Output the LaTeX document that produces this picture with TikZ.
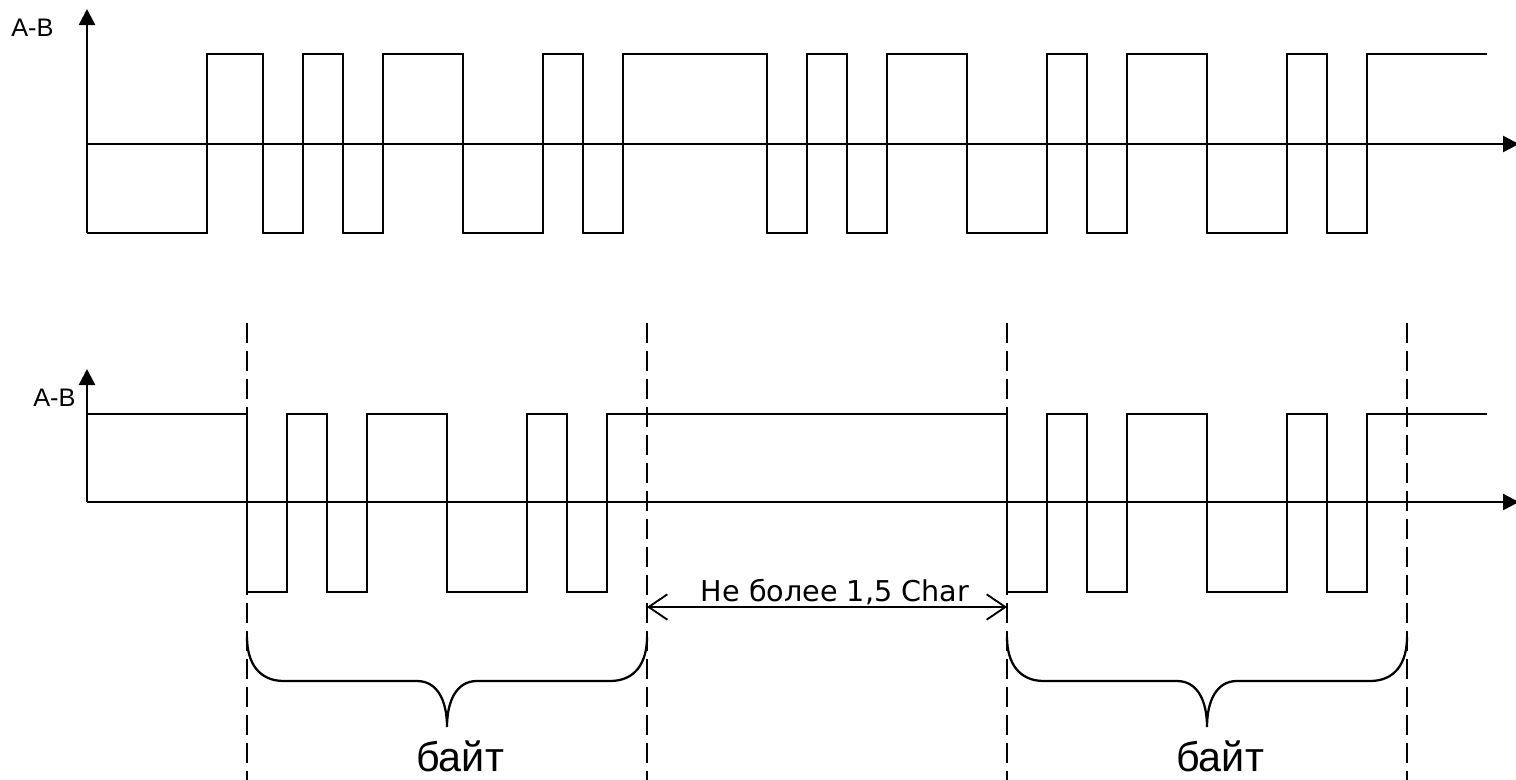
\documentclass[tikz,border=0pt]{standalone}
\usepackage{fontspec}
\setmainfont{Liberation Sans}
\newfontfamily\dvfont{DejaVu Sans}
\usetikzlibrary{arrows.meta}
\tikzset{
  wave/.style={line width=1.8pt, line join=miter},
  axisline/.style={line width=1.8pt, -{Triangle[length=12pt,width=12pt]}},
  guide/.style={line width=1.6pt, dash pattern=on 15pt off 6pt},
  bracepath/.style={line width=1.7pt},
  dimline/.style={line width=1.4pt, {Straight Barb[length=14pt,width=19pt,line width=1.4pt]}-{Straight Barb[length=14pt,width=19pt,line width=1.4pt]}},
  lbl/.style={inner sep=0pt, anchor=base}
}
\begin{document}
\begin{tikzpicture}[x=0.75pt, y=-0.75pt]
\useasboundingbox (0,0) rectangle (1516,779);

% ---------- top diagram ----------
\coordinate (o1) at (87,144);
\draw[axisline] (87,233) -- (87,9);
\draw[axisline] (o1) -- (1519,144);
\node[lbl, anchor=base west, font=\fontsize{19}{21}\selectfont] (ab1) at (11,36) {A-B};
\draw[wave] (87,233) -| (207,54) -| (263,233) -| (303,54) -| (343,233) -| (383,54)
  -| (463,233) -| (543,54) -| (583,233) -| (623,54) -| (767,233) -| (807,54)
  -| (847,233) -| (887,54) -| (967,233) -| (1047,54) -| (1087,233) -| (1127,54)
  -| (1207,233) -| (1287,54) -| (1327,233) -| (1367,54) -- (1487,54);

% ---------- bottom diagram ----------
\coordinate (o2) at (87,502);
\draw[axisline] (o2) -- (87,369);
\draw[axisline] (o2) -- (1519,502);
\node[lbl, anchor=base west, font=\fontsize{19}{21}\selectfont] (ab2) at (33,406) {A-B};
\draw[wave] (87,414) -| (247,592) -| (287,414) -| (327,592) -| (367,414) -| (447,592)
  -| (527,414) -| (567,592) -| (607,414) -| (1007,592) -| (1047,414) -| (1087,592)
  -| (1127,414) -| (1207,592) -| (1287,414) -| (1327,592) -| (1367,414) -- (1487,414);

% dashed guides
\foreach \gx/\gn in {247/g1, 647/g2, 1007/g3, 1407/g4} {
  \coordinate (\gn t) at (\gx,323);
  \coordinate (\gn b) at (\gx,781);
  \draw[guide] (\gn t) -- (\gn b);
}

% dimension arrow
\coordinate (d1) at (647,607);
\coordinate (d2) at (1007,607);
\draw[dimline] (d1) -- (d2);
\node[lbl, font=\dvfont\fontsize{21.5}{23}\selectfont] (gap) at (835,601) {Не более 1,5 Char};

% braces
\foreach \sx/\bn in {0/b1, 760/b2} {
  \begin{scope}[xshift=\sx*0.75pt]
    \draw[bracepath] (247,637) .. controls (247,663) and (259,681) .. (284,681)
      -- (417,681) .. controls (437,681) and (447,700) .. (447,727)
      .. controls (447,700) and (457,681) .. (477,681)
      -- (610,681) .. controls (635,681) and (647,663) .. (647,637);
  \end{scope}
}
\node[lbl, font=\fontsize{31}{33}\selectfont] (byte1) at (460,771) {байт};
\node[lbl, font=\fontsize{31}{33}\selectfont] (byte2) at (1220,771) {байт};
\end{tikzpicture}
\end{document}
